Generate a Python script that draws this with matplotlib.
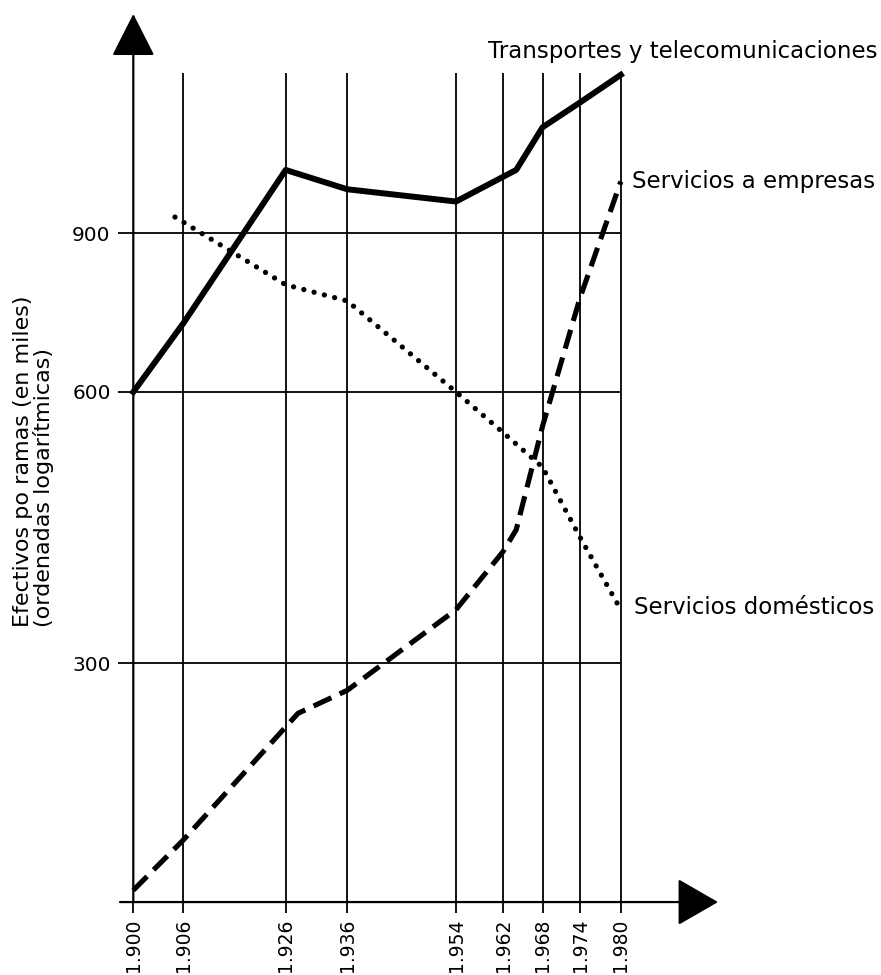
import numpy as np
import matplotlib.pyplot as plt
from matplotlib.ticker import FixedLocator, FixedFormatter, NullLocator

plt.rcParams['font.family'] = ['DejaVu Sans']

# años marcados en el eje x (el original no los espacia de forma lineal)
tick_years = [1900, 1906, 1926, 1936, 1954, 1962, 1968, 1974, 1980]
tick_labels = ['1.900', '1.906', '1.926', '1.936', '1.954', '1.962', '1.968', '1.974', '1.980']
# separación dibujada entre marcas, en px a partir de 1.900
tick_spacing = [0, 50, 152.4, 214, 322.7, 369.7, 409.3, 446.7, 487.5]

y_ticks = [300, 600, 900]
y_tick_labels = ['300', '600', '900']

# series (miles de efectivos)
years_transportes = [1900, 1906, 1926, 1936, 1954, 1964, 1968, 1974, 1980]
transportes = [600, 715, 1058, 1007, 976, 1058, 1180, 1257, 1349]

years_empresas = [1900, 1906, 1928, 1936, 1954, 1962, 1964, 1968, 1974, 1980]
empresas = [168, 191, 264, 280, 344, 399, 422, 550, 763, 1027]

years_domesticos = [1905, 1926, 1936, 1954, 1962, 1968, 1974, 1980]
domesticos = [938, 789, 757, 600, 541, 495, 414, 344]

# escala x: interpolación por tramos, extrapolada fuera de los extremos
s_lo = (tick_spacing[1] - tick_spacing[0]) / (tick_years[1] - tick_years[0])
s_hi = (tick_spacing[-1] - tick_spacing[-2]) / (tick_years[-1] - tick_years[-2])
ext_years = np.r_[1000, tick_years, 3000]
ext_pos = np.r_[tick_spacing[0] - 900 * s_lo, tick_spacing, tick_spacing[-1] + 1020 * s_hi]


def fwd(x):
    return np.interp(x, ext_years, ext_pos)


def inv(p):
    return np.interp(p, ext_pos, ext_years)


W, H = 881, 975
fig = plt.figure(figsize=(W / 100, H / 100), dpi=100)
ax = fig.add_axes([110 / W, 60 / H, 620 / W, 905 / H])

ax.set_xscale('function', functions=(fwd, inv))
ax.set_yscale('log')
ax.set_xlim(float(inv(-23.3)), float(inv(596.7)))
ax.set_ylim(157.7, 1592)

x_axis_y = 163.0
for s in ax.spines.values():
    s.set_visible(False)
ax.spines['bottom'].set_position(('data', x_axis_y))
ax.spines['left'].set_position(('data', tick_years[0]))

ax.xaxis.set_major_locator(FixedLocator(tick_years))
ax.xaxis.set_major_formatter(FixedFormatter(tick_labels))
ax.xaxis.set_minor_locator(NullLocator())
ax.yaxis.set_major_locator(FixedLocator(y_ticks))
ax.yaxis.set_major_formatter(FixedFormatter(y_tick_labels))
ax.yaxis.set_minor_locator(NullLocator())
ax.tick_params(axis='x', direction='out', length=8, width=1.3, pad=4,
               labelrotation=90, labelsize=13.5)
ax.tick_params(axis='y', direction='out', length=10.8, width=1.3, pad=5.5,
               labelsize=14.5)

# rejilla: verticales y horizontales
ax.vlines(tick_years[1:], x_axis_y, 1355, color='k', lw=1.3)
ax.hlines(y_ticks, tick_years[0], tick_years[-1], color='k', lw=1.3)

# ejes con flecha
arrow_kw = dict(mutation_scale=1, lw=1.6, color='k', shrinkA=0, shrinkB=0)
ax.annotate('', xy=(tick_years[0], 1576), xytext=(tick_years[0], x_axis_y),
            arrowprops=dict(arrowstyle='-|>,head_length=27,head_width=13.7', **arrow_kw))
ax.annotate('', xy=(float(inv(584.7)), x_axis_y), xytext=(float(inv(-13.3)), x_axis_y),
            arrowprops=dict(arrowstyle='-|>,head_length=26,head_width=15', **arrow_kw))

# series
ax.plot(years_transportes, transportes, color='k', lw=4.3)
ax.plot(years_empresas, empresas, color='k', lw=3.7, linestyle=(0, (3.8, 1.8)),
        dash_capstyle='butt')
ax.plot(years_domesticos, domesticos, color='k', lw=3.8, linestyle=(0, (0.01, 2.0)),
        dash_capstyle='round')

lab_kw = dict(textcoords='offset points', fontsize=16.5, color='k')
ax.annotate('Transportes y telecomunicaciones', xy=(years_transportes[-1], transportes[-1]),
            xytext=(184.5, 12.2), ha='right', va='baseline', **lab_kw)
ax.annotate('Servicios a empresas', xy=(years_empresas[-1], empresas[-1]),
            xytext=(8, 0), ha='left', va='center', **lab_kw)
ax.annotate('Servicios domésticos', xy=(years_domesticos[-1], domesticos[-1]),
            xytext=(9.6, 1.8), ha='left', va='center', **lab_kw)

fig.text(34 / W, 1 - 627 / H, 'Efectivos po ramas (en miles)\n(ordenadas logarítmicas)',
         rotation=90, ha='center', va='bottom', multialignment='left',
         fontsize=16, linespacing=1.0)

fig.savefig('out.png', dpi=100)
